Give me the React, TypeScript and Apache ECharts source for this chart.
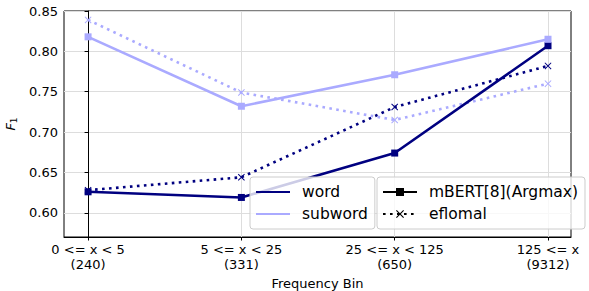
import React, { useEffect, useRef } from "react";
import * as echarts from "echarts";

const categories = ["0 <= x < 5\n(240)", "5 <= x < 25\n(331)", "25 <= x < 125\n(650)", "125 <= x\n(9312)"];
const wordMbert = [0.626, 0.619, 0.674, 0.807];
const wordEflomal = [0.628, 0.644, 0.731, 0.782];
const subwordMbert = [0.818, 0.732, 0.771, 0.815];
const subwordEflomal = [0.839, 0.749, 0.715, 0.760];
const yTicks = [0.6, 0.65, 0.7, 0.75, 0.8, 0.85];

const DARK = "#000080";
const LIGHT = "#aaaaff";
const XSYM = "path://M1,0L5,4L9,0L10,1L6,5L10,9L9,10L5,6L1,10L0,9L4,5L0,1Z";
const FONT = "DejaVu Sans";

const toPts = (arr: number[]) => arr.map((v, i) => [i, v]);

export default function App() {
  const ref = useRef<HTMLDivElement>(null);
  useEffect(() => {
    if (!ref.current) return;
    const chart = echarts.init(ref.current, undefined, { renderer: "svg" });
    const solid = (name: string, data: number[], color: string) => ({
      name, type: "line", data: toPts(data), symbol: "rect", symbolSize: 7,
      lineStyle: { color, width: 2.6 }, itemStyle: { color }, z: 3,
    });
    const dotted = (name: string, data: number[], color: string) => ({
      name, type: "line", data: toPts(data), symbol: XSYM, symbolSize: 7,
      lineStyle: { color, width: 2.6, type: [2.6, 4.4] }, itemStyle: { color }, z: 2,
    });
    const legendStyle = {
      orient: "vertical", top: 177, padding: [6, 7, 6, 5], itemGap: 4,
      itemWidth: 34, itemHeight: 10,
      backgroundColor: "rgba(255,255,255,0.8)", borderColor: "#cccccc",
      borderWidth: 1, borderRadius: 3,
      textStyle: { fontFamily: FONT, fontSize: 15.5, color: "#000", lineHeight: 18, padding: [0, 0, 0, 7] },
    };
    const hidden = { opacity: 0, borderWidth: 0 };
    chart.setOption({
      animation: false,
      grid: {
        left: 64, right: 18, top: 11, bottom: 54, show: true, borderColor: "#000", borderWidth: 1,
        containLabel: false, outerBoundsMode: "none",
      },
      xAxis: {
        type: "value", min: -0.157, max: 3.15,
        name: "Frequency Bin", nameLocation: "middle", nameGap: 37,
        nameTextStyle: { fontFamily: FONT, fontSize: 13, color: "#000" },
        axisLine: { show: true, lineStyle: { color: "#000", width: 1 } },
        axisTick: { show: true, customValues: [0, 1, 2, 3], length: 3.5, lineStyle: { color: "#000" } },
        axisLabel: {
          customValues: [0, 1, 2, 3], formatter: (v: number) => categories[Math.round(v)],
          fontFamily: FONT, fontSize: 13, color: "#000", lineHeight: 15, margin: 5,
        },
        splitLine: { show: true, lineStyle: { color: "#dddddd", width: 1 } },
      },
      yAxis: {
        type: "value", min: 0.57, max: 0.85,
        name: "{f|F}{s|1}", nameLocation: "middle", nameGap: 44,
        nameTextStyle: {
          rich: {
            f: { fontFamily: FONT, fontSize: 13, fontStyle: "italic", color: "#000" },
            s: { fontFamily: FONT, fontSize: 9, color: "#000", verticalAlign: "bottom", padding: [6, 0, 0, 0] },
          },
        },
        axisLine: { show: true, lineStyle: { color: "#000", width: 1 } },
        axisTick: { show: true, customValues: yTicks, length: 3.5, lineStyle: { color: "#000" } },
        axisLabel: {
          customValues: yTicks, formatter: (v: number) => v.toFixed(2),
          fontFamily: FONT, fontSize: 13, color: "#000", margin: 6,
        },
        splitLine: { show: true, lineStyle: { color: "#dddddd", width: 1 } },
      },
      legend: [
        {
          ...legendStyle, left: 250,
          data: [{ name: "word", itemStyle: hidden }, { name: "subword", itemStyle: hidden }],
        },
        { ...legendStyle, left: 377, data: ["mBERT[8](Argmax)", "eflomal"] },
      ],
      series: [
        solid("word mBERT", wordMbert, DARK),
        dotted("word eflomal", wordEflomal, DARK),
        solid("subword mBERT", subwordMbert, LIGHT),
        dotted("subword eflomal", subwordEflomal, LIGHT),
        { name: "word", type: "line", data: [], symbol: "none", lineStyle: { color: DARK, width: 2.6 }, itemStyle: { color: DARK } },
        { name: "subword", type: "line", data: [], symbol: "none", lineStyle: { color: LIGHT, width: 2.6 }, itemStyle: { color: LIGHT } },
        { name: "mBERT[8](Argmax)", type: "line", data: [], symbol: "rect", lineStyle: { color: "#000", width: 2.6 }, itemStyle: { color: "#000" } },
        { name: "eflomal", type: "line", data: [], symbol: XSYM, lineStyle: { color: "#000", width: 2.6, type: [2.6, 4.4] }, itemStyle: { color: "#000" } },
      ],
    });
    return () => chart.dispose();
  }, []);
  return <div ref={ref} style={{ width: 589, height: 291, position: "absolute", left: 0, top: 0 }} />;
}
